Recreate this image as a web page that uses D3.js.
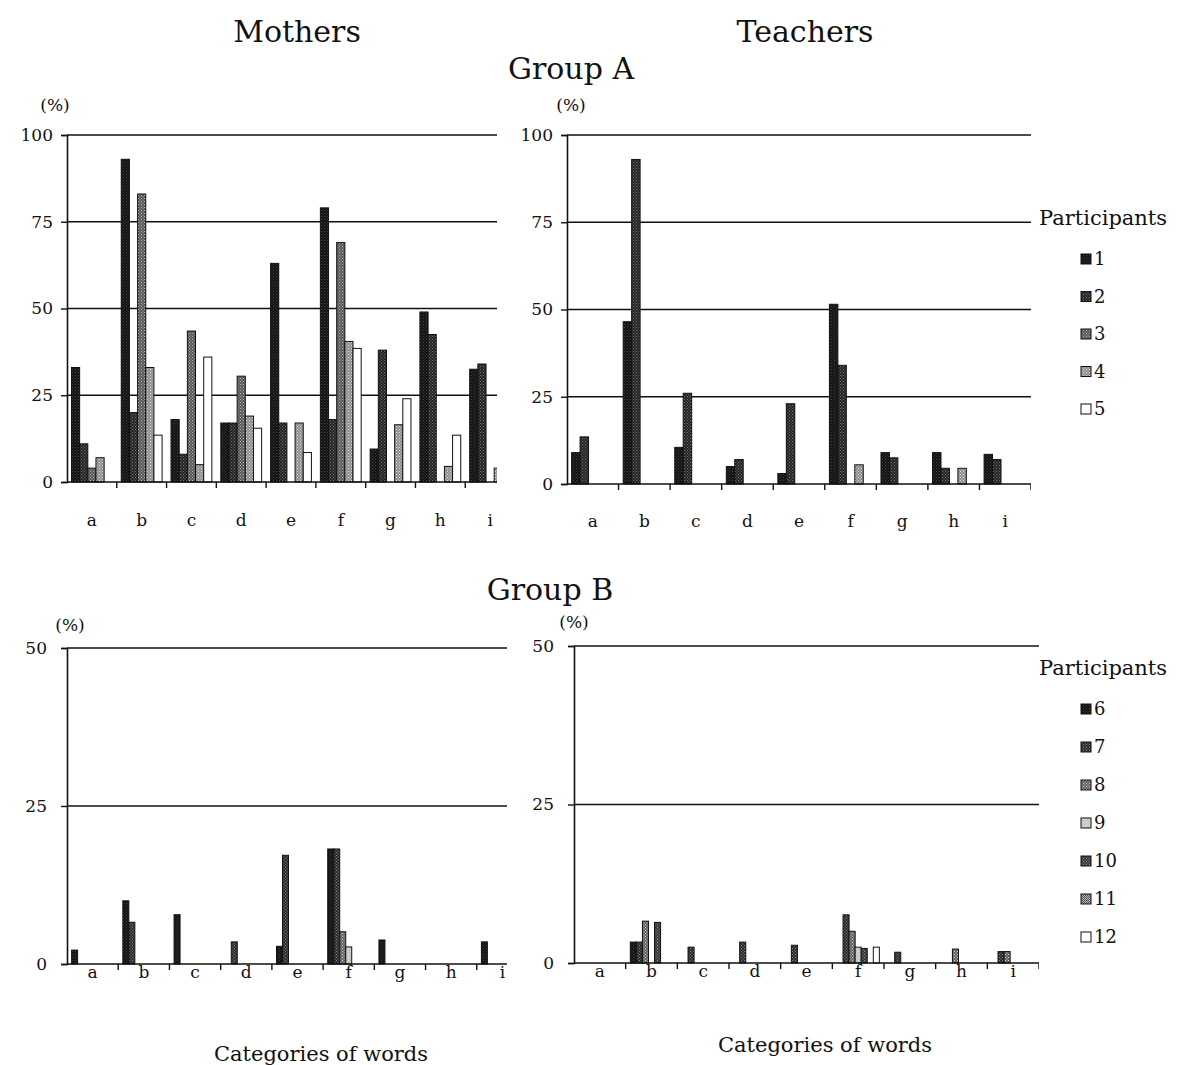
<!DOCTYPE html>
<html>
<head>
<meta charset="utf-8">
<script src="https://cdn.jsdelivr.net/npm/d3@7"></script>
<style>
  body { margin: 0; background: #fff; }
  text { font-family: "DejaVu Serif", "Liberation Serif", serif; fill: #111; }
</style>
</head>
<body>
<svg id="chart" width="1187" height="1065"></svg>
<script>
// categories of words
var CATEGORIES = ["a", "b", "c", "d", "e", "f", "g", "h", "i"];

// participants
var GROUP_A = ["1", "2", "3", "4", "5"];
var GROUP_B = ["6", "7", "8", "9", "10", "11", "12"];

// y tick labels
var TICKS_A = [0, 25, 50, 75, 100];
var TICKS_B = [0, 25, 50];

// Group A, Mothers (%), one row per participant, columns a..i
var MOTHERS_A = [
  [33, 93, 18, 17, 63, 79, 9.5, 49, 32.5],
  [11, 20, 8, 17, 17, 18, 38, 42.5, 34],
  [4, 83, 43.5, 30.5, 0, 69, 0, 0, 0],
  [7, 33, 5, 19, 17, 40.5, 16.5, 4.5, 4],
  [0, 13.5, 36, 15.5, 8.5, 38.5, 24, 13.5, 0]
];

// Group A, Teachers (%)
var TEACHERS_A = [
  [9, 46.5, 10.5, 5, 3, 51.5, 9, 9, 8.5],
  [13.5, 93, 26, 7, 23, 34, 7.5, 4.5, 7],
  [0, 0, 0, 0, 0, 0, 0, 0, 0],
  [0, 0, 0, 0, 0, 5.5, 0, 4.5, 0],
  [0, 0, 0, 0, 0, 0, 0, 0, 0]
];

// Group B, Mothers (%)
var MOTHERS_B = [
  [2.2, 10, 7.8, 0, 2.8, 18.2, 3.8, 0, 3.5],
  [0, 6.6, 0, 3.5, 17.2, 18.2, 0, 0, 0],
  [0, 0, 0, 0, 0, 5.1, 0, 0, 0],
  [0, 0, 0, 0, 0, 2.7, 0, 0, 0],
  [0, 0, 0, 0, 0, 0, 0, 0, 0],
  [0, 0, 0, 0, 0, 0, 0, 0, 0],
  [0, 0, 0, 0, 0, 0, 0, 0, 0]
];

// Group B, Teachers (%)
var TEACHERS_B = [
  [0, 3.3, 0, 0, 0, 0, 0, 0, 0],
  [0, 3.3, 2.5, 3.3, 2.8, 7.6, 1.7, 0, 1.8],
  [0, 6.6, 0, 0, 0, 5, 0, 2.2, 1.8],
  [0, 0, 0, 0, 0, 2.5, 0, 0, 0],
  [0, 6.4, 0, 0, 0, 2.3, 0, 0, 0],
  [0, 0, 0, 0, 0, 0, 0, 0, 0],
  [0, 0, 0, 0, 0, 2.5, 0, 0, 0]
];

var svg = d3.select("#chart");
var defs = svg.append("defs");

// stippled fills, one per participant
function makePattern(id, base, dot, step)
{
  var p = defs.append("pattern")
              .attr("id", id)
              .attr("width", step)
              .attr("height", step)
              .attr("patternUnits", "userSpaceOnUse");
  p.append("rect").attr("width", step).attr("height", step).attr("fill", base);
  if (dot)
  {
    p.append("rect").attr("x", 0).attr("y", 0).attr("width", 1).attr("height", 1).attr("fill", dot);
    p.append("rect").attr("x", step/2).attr("y", step/2).attr("width", 1).attr("height", 1).attr("fill", dot);
  }
  return "url(#" + id + ")";
}

var FILL_A = [
  makePattern("pa1", "#111111", "#444", 3),
  makePattern("pa2", "#222222", "#777", 3),
  makePattern("pa3", "#555555", "#bbb", 3),
  makePattern("pa4", "#8c8c8c", "#e4e4e4", 3),
  "#ffffff"
];
var FILL_B = [
  makePattern("pb6", "#111111", "#444", 3),
  makePattern("pb7", "#2a2a2a", "#888", 3),
  makePattern("pb8", "#5e5e5e", "#ddd", 3),
  makePattern("pb9", "#bdbdbd", "#fff", 3),
  makePattern("pb10", "#333333", "#999", 3),
  makePattern("pb11", "#b5b5b5", "#555", 2),
  "#ffffff"
];

function drawPanel(opt)
{
  var g = svg.append("g");

  var x0 = d3.scaleBand().domain(CATEGORIES).range([opt.left, opt.right]);
  var bw = x0.bandwidth();
  var x1 = d3.scaleBand().domain(opt.keys).range([bw*0.09, bw*0.91]);
  var y = d3.scaleLinear().domain([0, opt.max]).range([opt.bottom, opt.top]);

  var clipId = "clip" + opt.id;
  defs.append("clipPath").attr("id", clipId)
      .append("rect")
      .attr("x", opt.left - 10).attr("y", opt.top - 10)
      .attr("width", opt.clip - opt.left + 10)
      .attr("height", opt.bottom - opt.top + 30);

  var plot = g.append("g").attr("clip-path", "url(#" + clipId + ")");

  // gridlines
  plot.selectAll(".grid")
      .data(opt.ticks.filter(function(t) { return t > 0; }))
      .enter().append("line")
      .attr("x1", opt.left).attr("x2", opt.clip)
      .attr("y1", function(d) { return y(d); })
      .attr("y2", function(d) { return y(d); })
      .attr("stroke", "#111").attr("stroke-width", 1.6);

  // bars
  var rows = [];
  opt.data.forEach(function(row, k) {
    row.forEach(function(v, c) {
      if (v > 0) rows.push({ key: opt.keys[k], k: k, cat: CATEGORIES[c], v: v });
    });
  });

  plot.selectAll(".bar")
      .data(rows)
      .enter().append("rect")
      .attr("x", function(d) { return x0(d.cat) + x1(d.key); })
      .attr("y", function(d) { return y(d.v); })
      .attr("width", x1.bandwidth())
      .attr("height", function(d) { return y(0) - y(d.v); })
      .attr("fill", function(d) { return opt.fills[d.k]; })
      .attr("stroke", "#111")
      .attr("stroke-width", 1);

  // x axis
  var xa = plot.append("g").attr("transform", "translate(0," + opt.bottom + ")");
  xa.append("line").attr("x1", opt.left).attr("x2", opt.clip)
    .attr("stroke", "#111").attr("stroke-width", 1.6);
  xa.selectAll(".xt")
    .data(CATEGORIES.slice(1).concat(["end"]))
    .enter().append("line")
    .attr("x1", function(d, i) { return opt.left + (i + 1) * bw; })
    .attr("x2", function(d, i) { return opt.left + (i + 1) * bw; })
    .attr("y1", 0).attr("y2", 6)
    .attr("stroke", "#111").attr("stroke-width", 1.4);

  g.selectAll(".xl")
    .data(CATEGORIES)
    .enter().append("text")
    .attr("x", function(d) { return x0(d) + bw / 2; })
    .attr("y", opt.bottom + opt.xLabelDy)
    .attr("text-anchor", "middle")
    .attr("font-size", "17px")
    .text(function(d) { return d; });

  // y axis
  var ya = d3.axisLeft(y).tickValues(opt.ticks).tickSize(6).tickPadding(opt.tickPad)
             .tickFormat(d3.format("d"));
  var yg = g.append("g").attr("transform", "translate(" + opt.left + ",0)").call(ya);
  yg.select(".domain").attr("stroke", "#111").attr("stroke-width", 1.6);
  yg.selectAll(".tick line").attr("stroke", "#111").attr("stroke-width", 1.4);
  yg.selectAll(".tick text")
    .attr("font-family", "DejaVu Serif, serif")
    .attr("font-size", "17px")
    .attr("fill", "#111");

  // (%) unit
  g.append("text")
   .attr("x", opt.left + opt.unitDx)
   .attr("y", opt.top - opt.unitDy)
   .attr("text-anchor", "middle")
   .attr("font-size", "17px")
   .text("(%)");
}

function drawLegend(keys, fills, x, y, step)
{
  var g = svg.append("g");
  g.append("text").attr("x", x).attr("y", y)
   .attr("font-size", "21px").text("Participants");
  keys.forEach(function(k, i) {
    var yy = y + 40 + i * step;
    g.append("rect").attr("x", x + 42).attr("y", yy - 11)
     .attr("width", 10).attr("height", 10)
     .attr("fill", fills[i]).attr("stroke", "#111").attr("stroke-width", 1);
    g.append("text").attr("x", x + 55).attr("y", yy)
     .attr("font-size", "18px").text(k);
  });
}

// headings
function title(t, x, y, size)
{
  svg.append("text").attr("x", x).attr("y", y)
     .attr("text-anchor", "middle").attr("font-size", size + "px").text(t);
}
title("Mothers", 297, 42, 30);
title("Teachers", 805, 42, 30);
title("Group A", 571, 79, 30);
title("Group B", 550, 600, 30);
title("Categories of words", 321, 1061, 21);
title("Categories of words", 825, 1052, 21);

drawPanel({ id: "tl", left: 67, right: 515, clip: 497, top: 135, bottom: 482, max: 100,
            ticks: TICKS_A, keys: GROUP_A, data: MOTHERS_A, fills: FILL_A,
            xLabelDy: 44, tickPad: 8, unitDx: -12, unitDy: 24 });
drawPanel({ id: "tr", left: 567, right: 1031, clip: 1031, top: 135, bottom: 484, max: 100,
            ticks: TICKS_A, keys: GROUP_A, data: TEACHERS_A, fills: FILL_A,
            xLabelDy: 43, tickPad: 8, unitDx: 4, unitDy: 24 });
drawPanel({ id: "bl", left: 67, right: 528, clip: 507, top: 648, bottom: 964, max: 50,
            ticks: TICKS_B, keys: GROUP_B, data: MOTHERS_B, fills: FILL_B,
            xLabelDy: 14, tickPad: 14, unitDx: 3, unitDy: 17 });
drawPanel({ id: "br", left: 574, right: 1039, clip: 1039, top: 646, bottom: 963, max: 50,
            ticks: TICKS_B, keys: GROUP_B, data: TEACHERS_B, fills: FILL_B,
            xLabelDy: 14, tickPad: 14, unitDx: 0, unitDy: 18 });

drawLegend(GROUP_A, FILL_A, 1039, 225, 37.5);
drawLegend(GROUP_B, FILL_B, 1039, 675, 38);
</script>
</body>
</html>
